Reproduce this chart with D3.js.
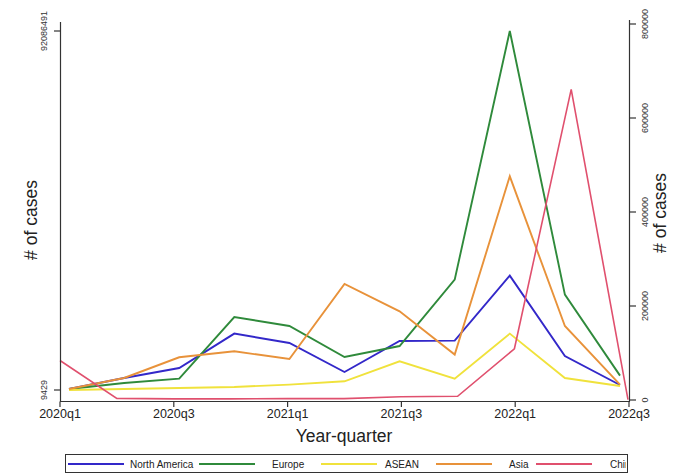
<!DOCTYPE html>
<html>
<head>
<meta charset="utf-8">
<script src="https://cdn.jsdelivr.net/npm/d3@7"></script>
<style>
  html, body { margin: 0; padding: 0; background: #fff; }
  svg { display: block; font-family: "Liberation Sans", Arial, sans-serif; }
</style>
</head>
<body>
<svg id="chart" width="677" height="475"></svg>
<script>
// Quarterly COVID-19 case counts by region
const quarters = ["2020q1","2020q2","2020q3","2020q4","2021q1","2021q2","2021q3","2021q4","2022q1","2022q2","2022q3"];
const tickQuarters = ["2020q1","2020q3","2021q1","2021q3","2022q1","2022q3"];

// Left-axis series
const northAmerica = [265000, 3090000, 5650000, 14470000, 12060000, 4630000, 12580000, 12680000, 29350000, 8730000, 1290000];
const europe       = [265000, 1800000, 2930000, 18730000, 16420000, 8470000, 11290000, 28330000, 92086491, 24480000, 3700000];
const asean        = [9429, 265000, 522000, 779000, 1390000, 2240000, 7370000, 2930000, 14470000, 3090000, 1030000];
const asia         = [265000, 3090000, 8400000, 9930000, 7960000, 27200000, 20190000, 9090000, 54820000, 16420000, 1390000];
// Right-axis series
const china        = [84000, 3500, 2500, 2500, 3000, 3000, 7000, 8000, 109000, 661000, 1000];

const leftTicks  = [9429, 92086491];
const rightTicks = [0, 200000, 400000, 600000, 800000];

const seriesNames  = ["North America", "Europe", "ASEAN", "Asia", "China"];
const seriesColors = ["#3328c9", "#2f8a3b", "#f0e23c", "#e8923a", "#e0506e"];

const svg = d3.select("#chart");

// Axis scales
const xAxisScale = d3.scalePoint().domain(quarters).range([60, 629]);
const xLeft  = d3.scalePoint().domain(quarters).range([69, 620]);
const xRight = d3.scalePoint().domain(quarters).range([60, 628]);
const yLeft  = d3.scaleLinear().domain([9429, 92086491]).range([390, 31]);
const yRight = d3.scaleLinear().domain([0, 800000]).range([400, 24]);

// Lines
const leftSeries = [northAmerica, europe, asean, asia];
const lineLeft = d3.line().x((d, i) => xLeft(quarters[i])).y(d => yLeft(d));
const lineRight = d3.line().x((d, i) => xRight(quarters[i])).y(d => yRight(d));

const plot = svg.append("g");
leftSeries.forEach((s, k) => {
  plot.append("path").datum(s)
    .attr("d", lineLeft)
    .attr("fill", "none")
    .attr("stroke", seriesColors[k])
    .attr("stroke-width", 1.9)
    .attr("stroke-linejoin", "miter");
});
plot.append("path").datum(china)
  .attr("d", lineRight)
  .attr("fill", "none")
  .attr("stroke", seriesColors[4])
  .attr("stroke-width", 1.6);

// Left axis
const axisColor = "#333";
svg.append("line").attr("x1", 60.5).attr("x2", 60.5).attr("y1", 22).attr("y2", 401.5)
  .attr("stroke", axisColor).attr("stroke-width", 1.2);
const lt = svg.append("g");
leftTicks.forEach(v => {
  const y = yLeft(v);
  lt.append("line").attr("x1", 54).attr("x2", 60.5).attr("y1", y).attr("y2", y)
    .attr("stroke", axisColor).attr("stroke-width", 1.2);
  lt.append("text").attr("transform", `translate(47,${y}) rotate(-90)`)
    .attr("text-anchor", "middle").attr("font-size", 9).attr("fill", "#333")
    .text(v);
});
svg.append("text").attr("transform", "translate(37,220) rotate(-90)")
  .attr("text-anchor", "middle").attr("font-size", 17.5).attr("fill", "#222")
  .text("# of cases");

// Right axis
svg.append("line").attr("x1", 629.5).attr("x2", 629.5).attr("y1", 20).attr("y2", 401.5)
  .attr("stroke", axisColor).attr("stroke-width", 1.2);
const rt = svg.append("g");
rightTicks.forEach(v => {
  const y = yRight(v);
  rt.append("line").attr("x1", 629.5).attr("x2", 636).attr("y1", y).attr("y2", y)
    .attr("stroke", axisColor).attr("stroke-width", 1.2);
  rt.append("text").attr("transform", `translate(648,${y}) rotate(-90)`)
    .attr("text-anchor", "middle").attr("font-size", 9).attr("fill", "#333")
    .text(v);
});
svg.append("text").attr("transform", "translate(666,213) rotate(-90)")
  .attr("text-anchor", "middle").attr("font-size", 17.5).attr("fill", "#222")
  .text("# of cases");

// Bottom axis
svg.append("line").attr("x1", 60).attr("x2", 630).attr("y1", 401.5).attr("y2", 401.5)
  .attr("stroke", axisColor).attr("stroke-width", 1.2);
const bt = svg.append("g");
tickQuarters.forEach(q => {
  const x = xAxisScale(q);
  bt.append("line").attr("x1", x).attr("x2", x).attr("y1", 401.5).attr("y2", 407)
    .attr("stroke", axisColor).attr("stroke-width", 1.2);
  bt.append("text").attr("x", x).attr("y", 418)
    .attr("text-anchor", "middle").attr("font-size", 12.5).attr("fill", "#222")
    .text(q);
});
svg.append("text").attr("x", 344).attr("y", 442)
  .attr("text-anchor", "middle").attr("font-size", 17.5).attr("fill", "#222")
  .text("Year-quarter");

// Legend
const legend = svg.append("g");
svg.append("clipPath").attr("id", "legclip").append("rect")
  .attr("x", 65).attr("y", 453).attr("width", 561).attr("height", 21);
legend.append("rect").attr("x", 65.5).attr("y", 454.5).attr("width", 562).attr("height", 18)
  .attr("fill", "#fff").attr("stroke", "#333").attr("stroke-width", 1);
const legItems = legend.append("g").attr("clip-path", "url(#legclip)");
const legLineStart = [68, 199, 321, 436, 536];
const legTextStart = [130, 272, 385, 509, 610];
seriesNames.forEach((name, k) => {
  legItems.append("line")
    .attr("x1", legLineStart[k]).attr("x2", legLineStart[k] + 56)
    .attr("y1", 464).attr("y2", 464)
    .attr("stroke", seriesColors[k]).attr("stroke-width", 1.8);
  legItems.append("text").attr("x", legTextStart[k]).attr("y", 467.5)
    .attr("font-size", 10).attr("fill", "#222").text(name);
});
</script>
</body>
</html>
